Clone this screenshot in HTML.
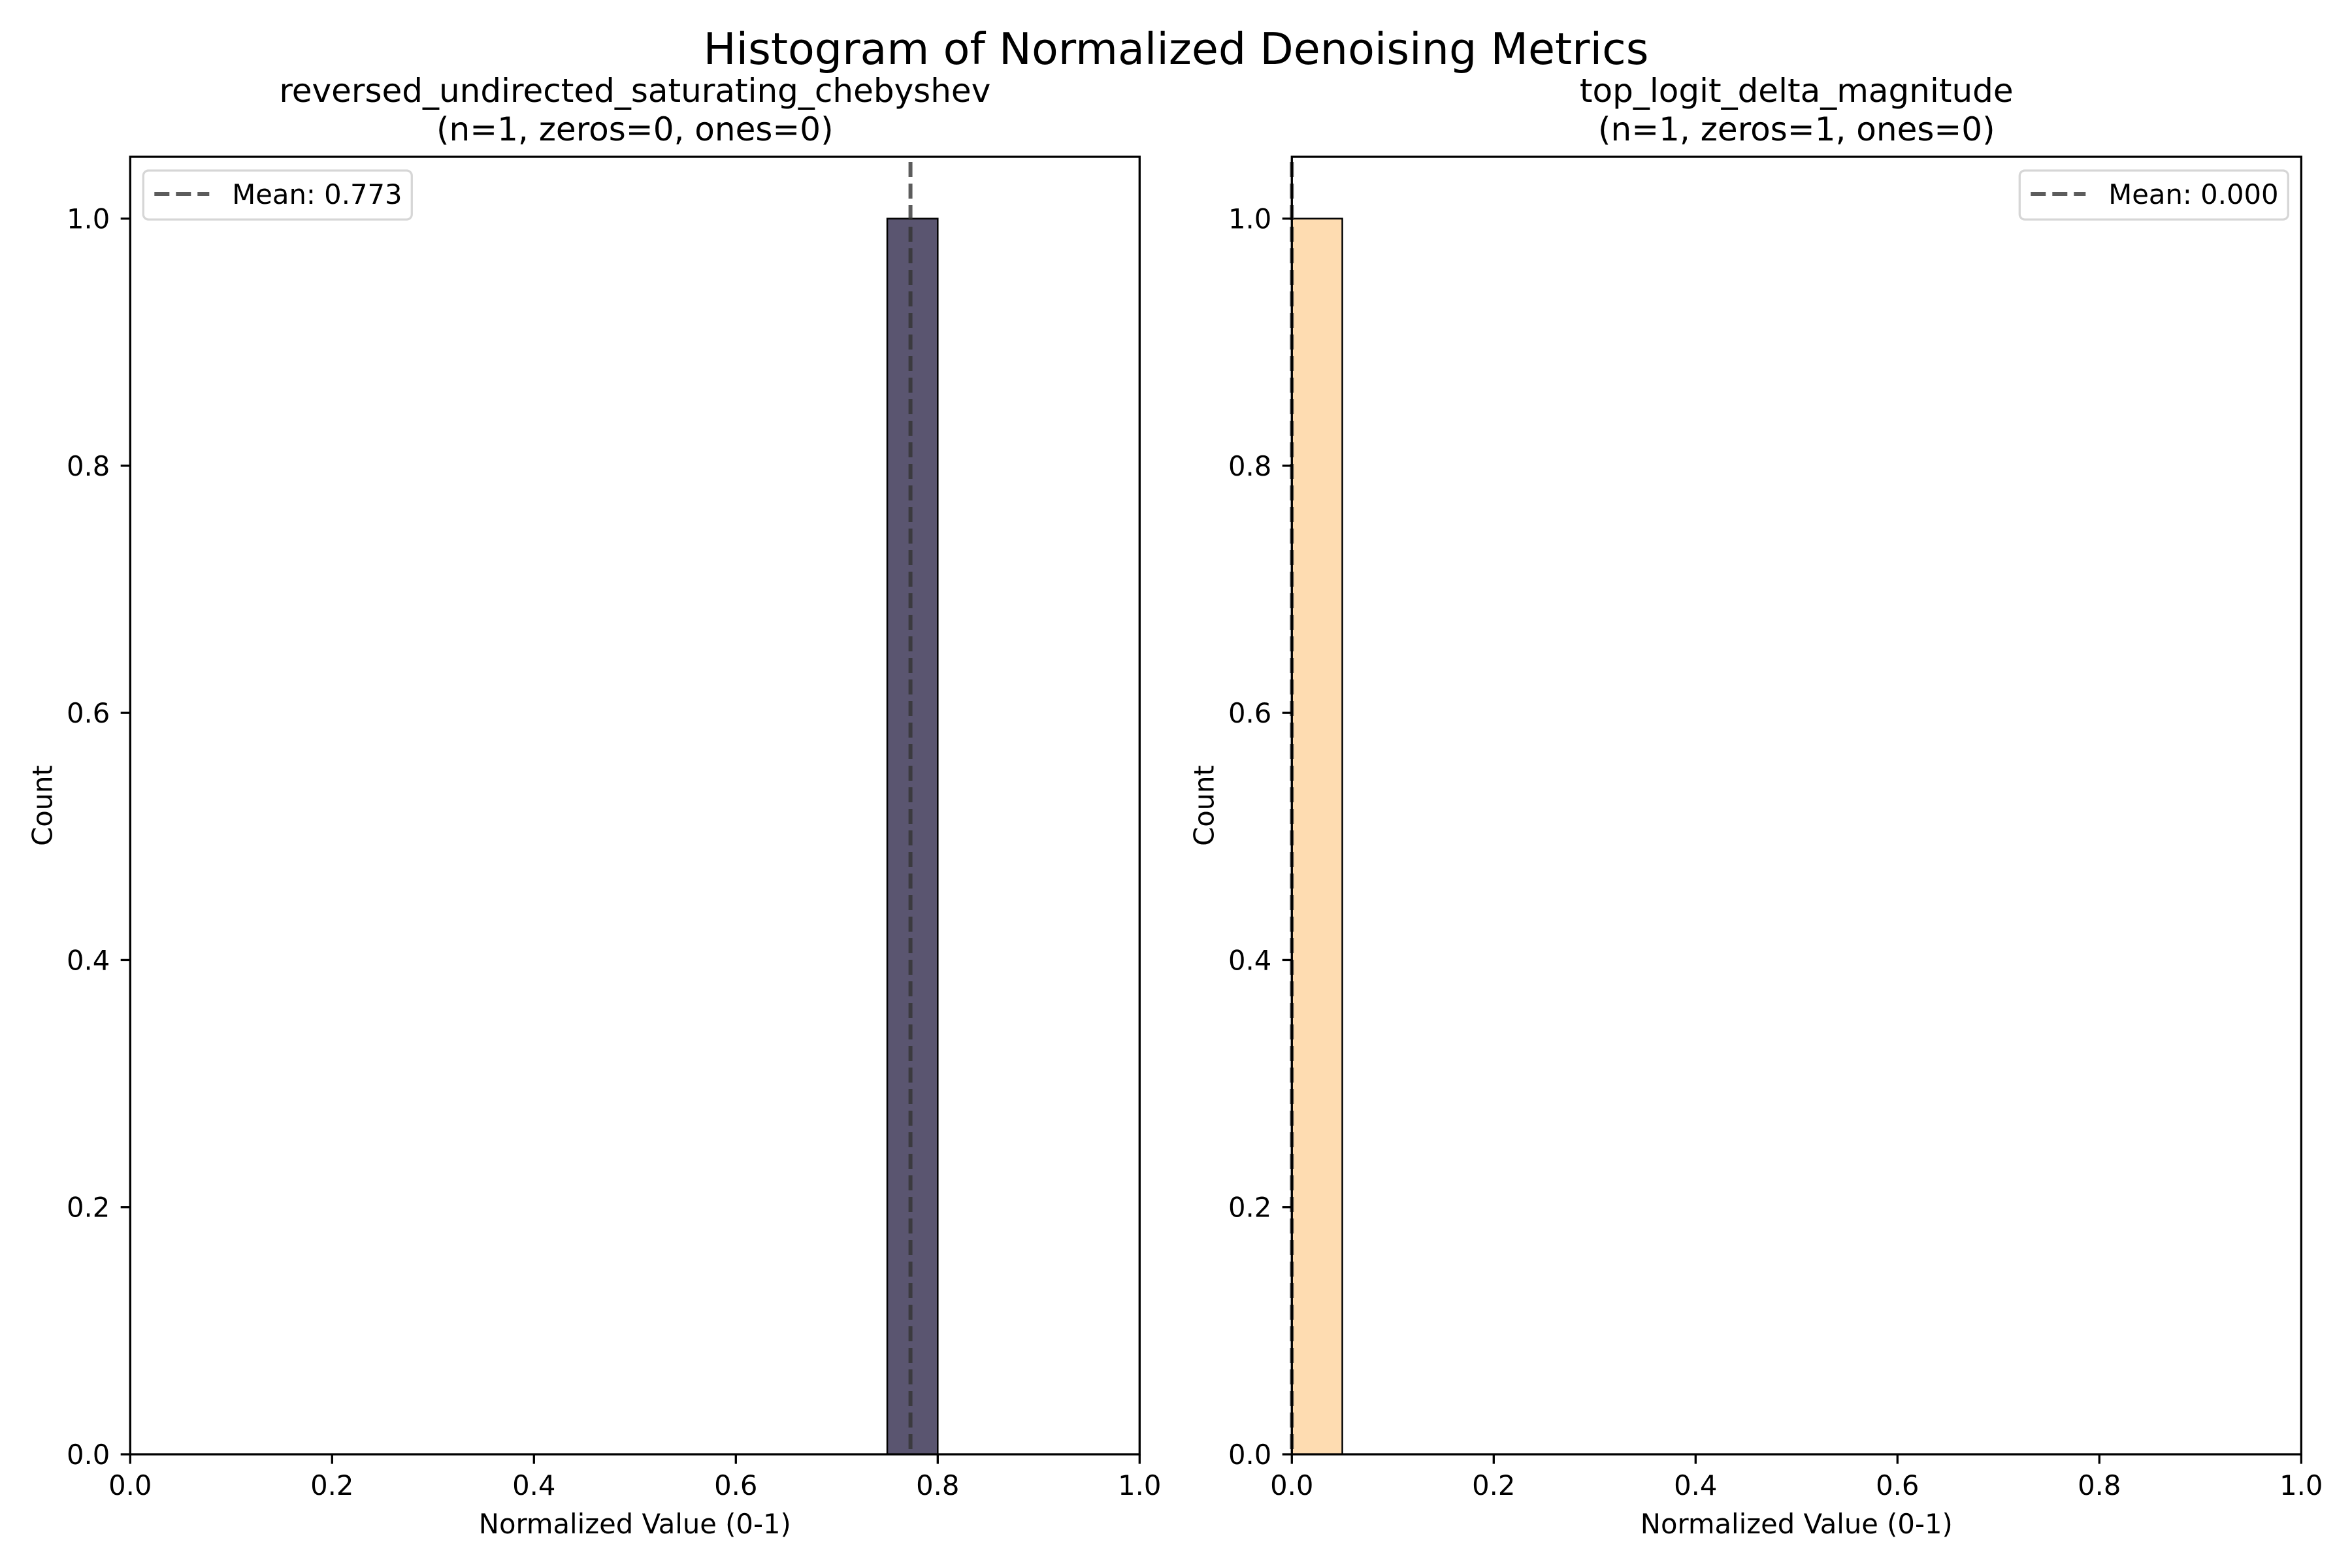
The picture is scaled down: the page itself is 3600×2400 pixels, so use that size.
<!DOCTYPE html>
<html><head><meta charset="utf-8"><style>
html,body{margin:0;padding:0;background:#fff}
svg{display:block;font-family:"DejaVu Sans","Liberation Sans",sans-serif}
</style></head><body>
<svg id="fig" width="3600" height="2400" viewBox="0 0 3600 2400" xmlns="http://www.w3.org/2000/svg">
<rect width="3600" height="2400" fill="#fff"/>
<text x="1800" y="98" font-size="66.7" text-anchor="middle">Histogram of Normalized Denoising Metrics</text>
</svg>
<script>
const panelTitles = ["reversed_undirected_saturating_chebyshev", "top_logit_delta_magnitude"];
const panelSubtitles = ["(n=1, zeros=0, ones=0)", "(n=1, zeros=1, ones=0)"];
const binStarts = [[0.75], [0.0]];
const binWidth = 0.05;
const binCounts = [[1], [1]];
const means = [0.773, 0.000];
const meanLabels = ["Mean: 0.773", "Mean: 0.000"];
const xTicks = [0, 0.2, 0.4, 0.6, 0.8, 1.0];
const xTickLabels = ["0.0", "0.2", "0.4", "0.6", "0.8", "1.0"];
const yTicks = [0, 0.2, 0.4, 0.6, 0.8, 1.0];
const yTickLabels = ["0.0", "0.2", "0.4", "0.6", "0.8", "1.0"];
const barColors = ["#5a5570", "#fedcb1"];

const NS = "http://www.w3.org/2000/svg";
const svg = document.getElementById("fig");
function mk(tag, attrs, parent) {
  const e = document.createElementNS(NS, tag);
  for (const k in attrs) e.setAttribute(k, attrs[k]);
  (parent || svg).appendChild(e);
  return e;
}
const lefts = [199.3, 1977.3];
const W = 1545, axTop = 240, axBottom = 2226, H = axBottom - axTop;
const yMax = 1.05;
for (let p = 0; p < 2; p++) {
  const x0 = lefts[p];
  const sx = v => x0 + v * W;
  const sy = v => axBottom - v / yMax * H;
  const g = mk("g", {});
  
  
  const cx = x0 + W / 2;
  const t1 = mk("text", {x: cx, y: 156, "font-size": 50, "text-anchor": "middle"}, g);
  t1.textContent = panelTitles[p];
  
  
  const t2 = mk("text", {x: cx, y: 215, "font-size": 50, "text-anchor": "middle"}, g);
  t2.textContent = panelSubtitles[p];
  
  
  for (let i = 0; i < binStarts[p].length; i++) {
    const b = mk("rect", {x: sx(binStarts[p][i]), y: sy(binCounts[p][i]), width: sx(binStarts[p][i] + binWidth) - sx(binStarts[p][i]), height: sy(0) - sy(binCounts[p][i]), fill: barColors[p], stroke: "#000", "stroke-width": 2.5}, g);
    
    
  }
  const ml = mk("line", {x1: sx(means[p]), x2: sx(means[p]), y1: axTop, y2: axBottom, stroke: "#333", "stroke-opacity": 0.8, "stroke-width": 6, "stroke-dasharray": "23 10", "stroke-dashoffset": -8}, g);
  
  
  const fr = mk("rect", {x: x0, y: axTop, width: W, height: H, fill: "none", stroke: "#000", "stroke-width": 3.3}, g);
  
  
  for (let i = 0; i < xTicks.length; i++) {
    const x = sx(xTicks[i]);
    mk("line", {x1: x, x2: x, y1: axBottom, y2: axBottom + 14.6, stroke: "#000", "stroke-width": 3.3}, g);
    const tl = mk("text", {x: x, y: 2288, "font-size": 41.7, "text-anchor": "middle"}, g);
    tl.textContent = xTickLabels[i];
    
    
  }
  for (let i = 0; i < yTicks.length; i++) {
    const y = sy(yTicks[i]);
    mk("line", {x1: x0 - 14.6, x2: x0, y1: y, y2: y, stroke: "#000", "stroke-width": 3.3}, g);
    const tl = mk("text", {x: x0 - 31, y: y + 15, "font-size": 41.7, "text-anchor": "end"}, g);
    tl.textContent = yTickLabels[i];
    
    
  }
  const xl = mk("text", {x: cx, y: 2347, "font-size": 41.7, "text-anchor": "middle"}, g);
  xl.textContent = "Normalized Value (0-1)";
  
  
  const yx = x0 - 120, yy = axTop + H / 2;
  const yl = mk("text", {x: yx, y: yy, "font-size": 41.7, "text-anchor": "middle", transform: `rotate(-90 ${yx} ${yy})`}, g);
  yl.textContent = "Count";
  
  
  const lw = 411, lh = 75;
  const lx = p === 0 ? x0 + 20 : x0 + W - 20 - lw, ly = 261;
  const lg = mk("g", {}, g);
  
  
  mk("rect", {x: lx, y: ly, width: lw, height: lh, rx: 8, fill: "#fff", "fill-opacity": 0.8, stroke: "#d6d6d6", "stroke-width": 3.3}, lg);
  const le = mk("line", {x1: lx + 17, x2: lx + 101, y1: ly + 36, y2: ly + 36, stroke: "#333", "stroke-opacity": 0.8, "stroke-width": 6, "stroke-dasharray": "23 10"}, lg);
  
  
  const lt = mk("text", {x: lx + 136, y: ly + 51, "font-size": 41.7}, lg);
  lt.textContent = meanLabels[p];
  
  
}
</script>
</body></html>
